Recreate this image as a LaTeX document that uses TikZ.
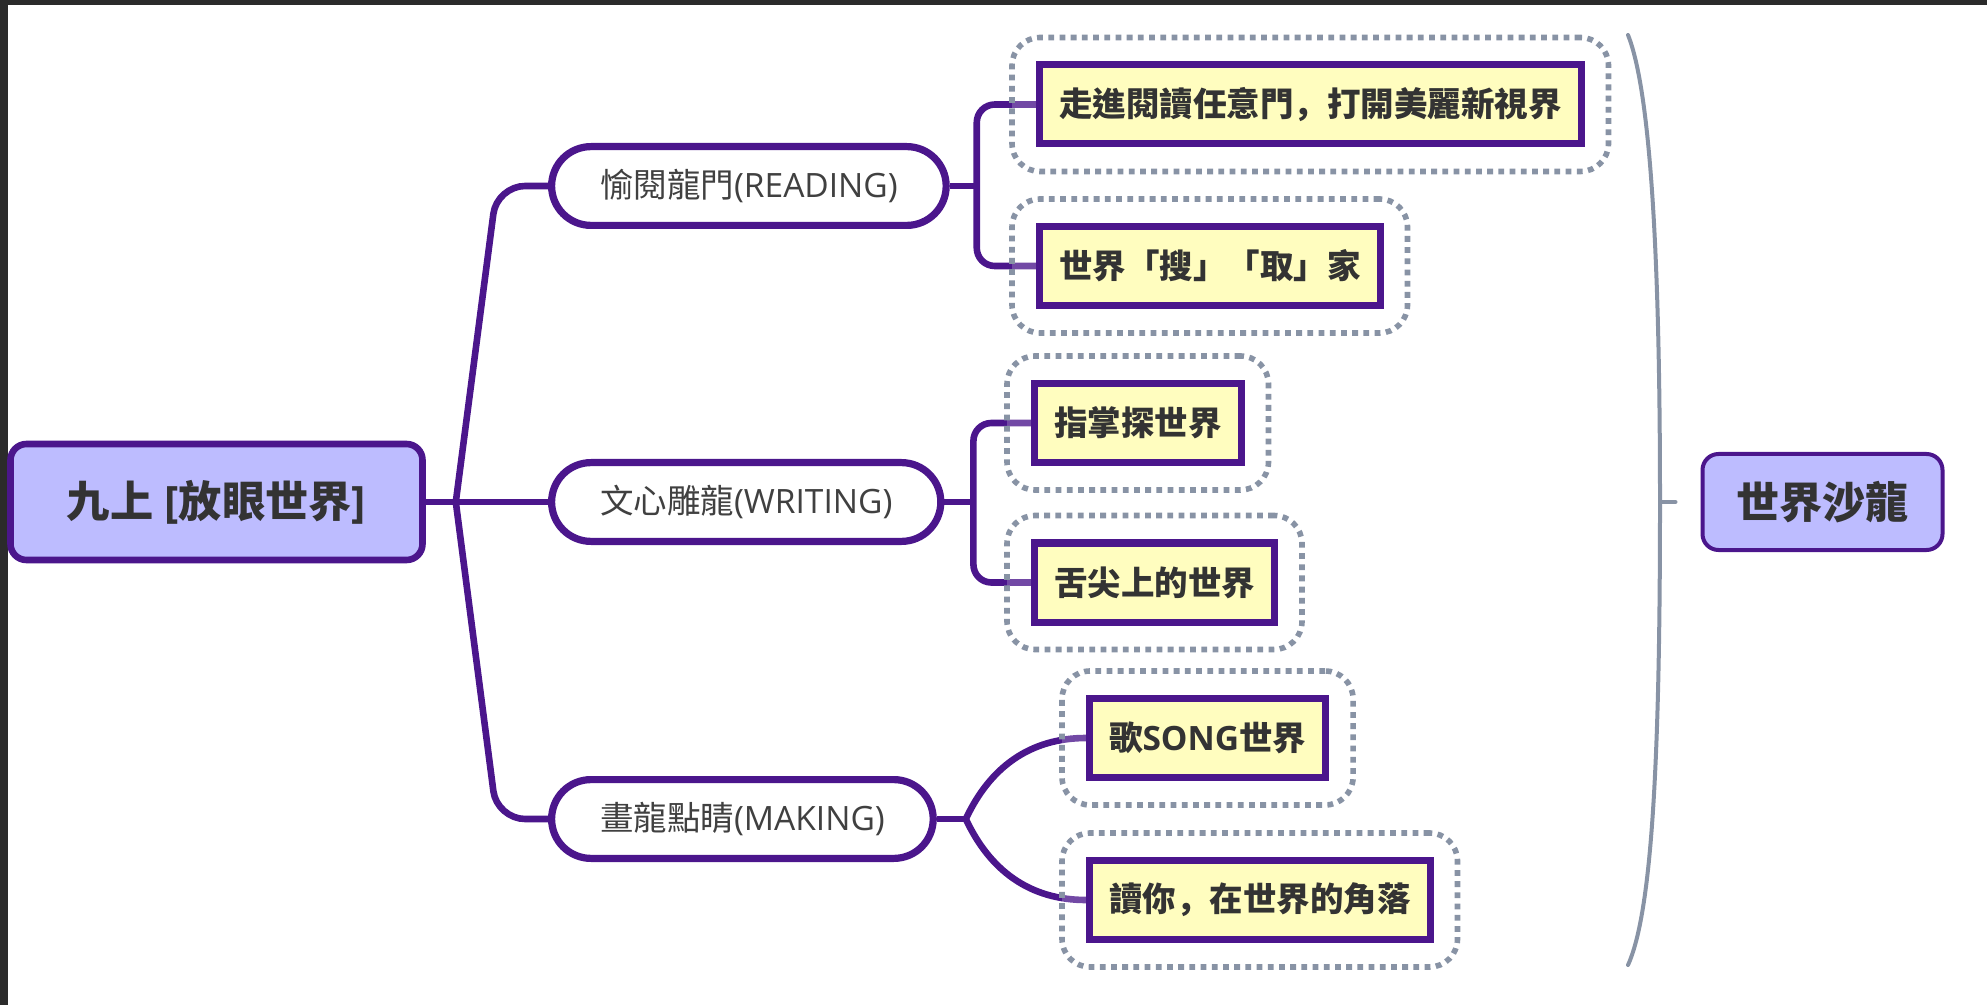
\documentclass[tikz,border=0pt]{standalone}
\usepackage{fontspec}
\setmainfont{Open Sans}
\newfontfamily\cjk{Noto Sans CJK TC}
\newfontfamily\cjksc{Noto Sans CJK SC}
\usepackage{tikz}
\usetikzlibrary{positioning,fit}
\pgfdeclarelayer{background}
\pgfdeclarelayer{foreground}
\pgfsetlayers{background,main,foreground}
\definecolor{mindpurple}{HTML}{4B168C}
\definecolor{rootfill}{HTML}{BDBCFF}
\definecolor{leaffill}{HTML}{FFFDBF}
\definecolor{framegray}{HTML}{8893A5}
\definecolor{inkgray}{HTML}{333333}
\definecolor{edgedark}{HTML}{2B2B2B}
\newcommand{\zh}[1]{{\cjk #1}}
\newcommand{\zhcomma}{{\cjksc ，}}
\tikzset{
  topic/.style={draw=mindpurple, line width=3.3pt, fill=rootfill, rounded corners=8pt,
    text=inkgray, font=\fontsize{21.6}{25}\selectfont\bfseries},
  branch/.style={draw=mindpurple, line width=3.6pt, fill=white, rounded corners=19.7pt,
    minimum height=39.4pt, inner xsep=24.2pt, anchor=west, text=black!75,
    font=\fontsize{16.75}{20}\selectfont},
  leaf/.style={draw=mindpurple, line width=3.5pt, fill=leaffill, minimum height=39.5pt,
    inner xsep=9.75pt, anchor=west, text=inkgray, font=\fontsize{16.75}{20}\selectfont\bfseries},
  dotframe/.style={draw=framegray, line width=2.8pt, dash pattern=on 2.9pt off 2.7pt,
    rounded corners=14pt, fill=white, fill opacity=0.22, inner sep=12pt},
  link/.style={draw=mindpurple, line width=3.3pt},
  brace/.style={draw=framegray, line width=2pt, line cap=round},
}
\begin{document}
\begin{tikzpicture}[x=0.5pt,y=-0.5pt]
  \useasboundingbox (0,0) rectangle (1987,1005);
  \fill[edgedark] (0,0) rectangle (1987,5);
  \fill[edgedark] (0,0) rectangle (8,1005);

  \node[topic, minimum width=206pt, minimum height=58pt] (root) at (216.5,502) {\zh{九上} [\zh{放眼世界}]};
  \node[branch] (reading) at (548,186) {\zh{愉閱龍門}(READING)};
  \node[branch] (writing) at (548,502) {\zh{文心雕龍}(WRITING)};
  \node[branch] (making) at (548,819) {\zh{畫龍點睛}(MAKING)};
  \node[leaf] (door) at (1036,104.5) {\zh{走進閱讀任意門}\zhcomma\zh{打開美麗新視界}};
  \node[leaf] (search) at (1036,266) {\zh{世界「搜」「取」家}};
  \node[leaf] (palm) at (1031,423) {\zh{指掌探世界}};
  \node[leaf] (tongue) at (1031,582.5) {\zh{舌尖上的世界}};
  \node[leaf] (song) at (1086,738) {\zh{歌}SONG\zh{世界}};
  \node[leaf] (corner) at (1086,900) {\zh{讀你}\zhcomma\zh{在世界的角落}};
  \node[topic, minimum width=120pt, minimum height=48pt, line width=2pt] (salon) at (1822.5,502) {\zh{世界沙龍}};

  \coordinate[right=15pt of root] (hub);
  \coordinate[right=13.5pt of reading] (rj);
  \coordinate[right=14.5pt of writing] (wj);
  \coordinate[right=14.5pt of making] (mj);

  \begin{pgfonlayer}{background}
    % trunk
    \draw[link] (root.east) -- (hub);
    \draw[link] (hub) -- (writing.west);
    \draw[link, rounded corners=14pt] (hub) -- (497,186) -- (reading.west);
    \draw[link, rounded corners=14pt] (hub) -- (497,819) -- (making.west);
    % second level
    \draw[link] (reading.east) -- (rj);
    \draw[link, rounded corners=9pt] (door.west) -| (rj) |- (search.west);
    \draw[link] (writing.east) -- (wj);
    \draw[link, rounded corners=9pt] (palm.west) -| (wj) |- (tongue.west);
    \draw[link] (making.east) -- (mj);
    \draw[link] (mj) to[out=65,in=180] (song.west);
    \draw[link] (mj) to[out=-65,in=180] (corner.west);
    % boundaries
    \node[dotframe, fit=(door)] (doorframe) {};
    \node[dotframe, fit=(search)] (searchframe) {};
    \node[dotframe, fit=(palm)] (palmframe) {};
    \node[dotframe, fit=(tongue)] (tongueframe) {};
    \node[dotframe, fit=(song)] (songframe) {};
    \node[dotframe, fit=(corner)] (cornerframe) {};
  \end{pgfonlayer}

  % summary
  \draw[brace] (1628,35) .. controls (1650,90) and (1660,250) .. (1660,502)
    .. controls (1660,760) and (1652,912) .. (1628,965);
  \coordinate (bmid) at (1660,502);
  \draw[brace] (bmid) -- ([xshift=-12.5pt]salon.west);
\end{tikzpicture}
\end{document}
